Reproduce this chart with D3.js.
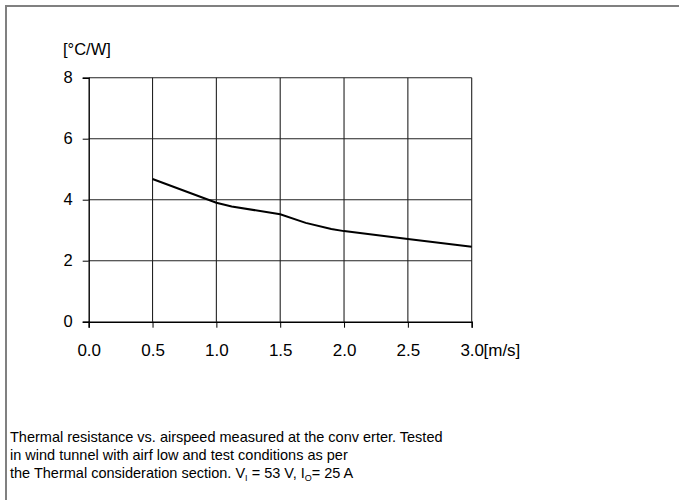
<!DOCTYPE html>
<html>
<head>
<meta charset="utf-8">
<script src="https://cdn.jsdelivr.net/npm/d3@7"></script>
<style>
  body { margin: 0; background: #fff; }
  text { font-family: "Liberation Sans", Arial, sans-serif; }
</style>
</head>
<body>
<div id="chart"></div>
<script>
// thermal resistance vs airspeed
var airspeed = [0.5, 1.0, 1.12, 1.5, 1.7, 1.9, 2.0, 2.5, 3.0]
var resistance = [4.68, 3.9, 3.78, 3.52, 3.24, 3.04, 2.97, 2.71, 2.46]
var xTicks = [0, 0.5, 1.0, 1.5, 2.0, 2.5, 3.0]
var yTicks = [0, 2, 4, 6, 8]
var yUnit = "[°C/W]"
var xUnit = "[m/s]"
var caption = [
  "Thermal resistance vs. airspeed measured at the conv erter. Tested",
  "in wind tunnel with airf low and test conditions as per"
]

var width = 679, height = 500
var plot = {left: 88.7, right: 471.7, top: 77.7, bottom: 321.7}

var svg = d3.select("#chart")
  .append("svg")
    .attr("width", width)
    .attr("height", height)

// gray frame (top and left only)
svg.append("rect")
  .attr("x", 5).attr("y", 5).attr("width", width).attr("height", 2)
  .attr("fill", "#808080")
svg.append("rect")
  .attr("x", 5).attr("y", 5).attr("width", 2).attr("height", height)
  .attr("fill", "#808080")

var x = d3.scaleLinear().domain([0, 3]).range([plot.left, plot.right])
var y = d3.scaleLinear().domain([0, 8]).range([plot.bottom, plot.top])

// grid
svg.append("g")
  .selectAll("line")
  .data(xTicks.slice(1))
  .enter().append("line")
    .attr("x1", function(d) { return x(d) }).attr("x2", function(d) { return x(d) })
    .attr("y1", y(0)).attr("y2", y(8))
    .attr("stroke", "#222").attr("stroke-width", 1.1)
svg.append("g")
  .selectAll("line")
  .data(yTicks.slice(1))
  .enter().append("line")
    .attr("x1", x(0)).attr("x2", x(3))
    .attr("y1", function(d) { return y(d) }).attr("y2", function(d) { return y(d) })
    .attr("stroke", "#222").attr("stroke-width", 1.1)

// axes
var xAxis = svg.append("g")
  .attr("transform", "translate(0," + y(0) + ")")
  .call(d3.axisBottom(x).tickValues(xTicks).tickFormat(d3.format(".1f")).tickSize(6).tickPadding(16))
var yAxis = svg.append("g")
  .attr("transform", "translate(" + x(0) + ",0)")
  .call(d3.axisLeft(y).tickValues(yTicks).tickFormat(d3.format("d")).tickSize(6).tickPadding(10))

xAxis.attr("font-size", 17).attr("font-family", "Liberation Sans, Arial, sans-serif")
yAxis.attr("font-size", 16.5).attr("font-family", "Liberation Sans, Arial, sans-serif")
svg.selectAll(".domain").attr("stroke", "#000").attr("stroke-width", 1.4)
svg.selectAll(".tick line").attr("stroke", "#000")
svg.selectAll(".tick text").attr("fill", "#000")

// unit labels
svg.append("text")
  .attr("x", 63).attr("y", 55)
  .attr("font-size", 16.5)
  .text(yUnit)
svg.append("text")
  .attr("x", x(3) + 11.8).attr("y", 355.5)
  .attr("font-size", 17)
  .text(xUnit)

// the curve
var line = d3.line()
  .x(function(d) { return x(d[0]) })
  .y(function(d) { return y(d[1]) })

svg.append("path")
  .datum(airspeed.map(function(v, i) { return [v, resistance[i]] }))
  .attr("d", line)
  .attr("fill", "none")
  .attr("stroke", "#000")
  .attr("stroke-width", 2)

// caption
var cap = svg.append("g").attr("font-size", 14.5)
caption.forEach(function(t, i) {
  cap.append("text").attr("x", 10).attr("y", 442 + i * 18).text(t)
})
var last = cap.append("text").attr("x", 10).attr("y", 478)
last.append("tspan").text("the Thermal consideration section. V")
last.append("tspan").attr("dy", 3).attr("font-size", 9).text("I")
last.append("tspan").attr("dy", -3).text(" = 53 V, I")
last.append("tspan").attr("dy", 3).attr("font-size", 9).text("O")
last.append("tspan").attr("dy", -3).text("= 25 A")
</script>
</body>
</html>
